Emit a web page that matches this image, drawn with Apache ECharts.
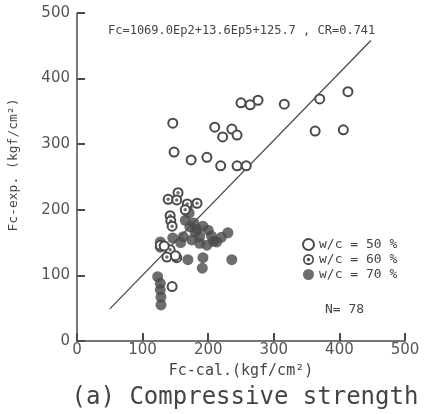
<!DOCTYPE html>
<html>
<head>
<meta charset="utf-8">
<script src="https://cdn.jsdelivr.net/npm/echarts@6/dist/echarts.min.js"></script>
<style>html,body{margin:0;padding:0;background:#fff;}#c{width:426px;height:414px;}</style>
</head>
<body>
<div id="c"></div>
<script>
// ---- data (Fc-cal, Fc-exp) in kgf/cm2 ----
var wc50 = [[146,332],[210,326],[236,323],[222,311],[244,314],[250,363],[264,360],[276,367],[316,361],[370,369],[413,380],[363,320],[406,322],[148,288],[174,276],[198,280],[219,267],[244,267],[258,267],[133,145],[150,130],[145,83]];
var wc60 = [[139,216],[154,226],[152,215],[168,209],[183,210],[142,191],[143,183],[145,175],[127,146],[142,139],[152,127],[137,128],[165,200]];
var wc70 = [[168,204],[171,195],[165,184],[172,174],[180,166],[187,159],[200,169],[230,165],[213,151],[198,146],[187,149],[175,154],[162,159],[146,157],[127,151],[127,143],[169,124],[192,127],[191,111],[236,124],[123,98],[127,88],[127,78],[128,67],[128,55],[183,170],[205,160],[220,158],[192,175],[208,152],[178,180],[158,150]];
var regLine = [[50,49],[448,458]];
var names = ['w/c = 50 %','w/c = 60 %','w/c = 70 %'];

var ink = '#4a4a4a';
var mono = '"DejaVu Sans Mono", "Liberation Mono", monospace';
var dotPath = 'path://M0,-10A10,10,0,1,1,0,10A10,10,0,1,1,0,-10ZM0,-7A7,7,0,1,0,0,7A7,7,0,1,0,0,-7ZM0,-3A3,3,0,1,1,0,3A3,3,0,1,1,0,-3Z';

var chart = echarts.init(document.getElementById('c'));
function makeAxis(extra) {
  var a = {
    type: 'value', min: 0, max: 500, interval: 100,
    axisLine: {show: true, lineStyle: {color: ink, width: 1.5}},
    axisTick: {show: true, inside: true, length: 8, lineStyle: {color: ink, width: 2}},
    splitLine: {show: false}
  };
  for (var k in extra) a[k] = extra[k];
  return a;
}
chart.setOption({
  animation: false,
  backgroundColor: '#fff',
  title: {
    text: 'Fc=1069.0Ep2+13.6Ep5+125.7 , CR=0.741',
    left: 103, top: 20,
    textStyle: {fontFamily: mono, fontSize: 12, fontWeight: 'normal', color: '#444'}
  },
  grid: {left: 77, right: 21, top: 13, bottom: 73},
  legend: {
    orient: 'vertical', left: 297, top: 233, itemGap: 2, itemWidth: 11, itemHeight: 11,
    textStyle: {fontFamily: mono, fontSize: 13, color: '#444'},
    data: [
      {name: names[0], icon: 'circle'},
      {name: names[1], icon: dotPath, itemStyle: {color: ink, borderWidth: 0}},
      {name: names[2], icon: 'circle'}
    ]
  },
  xAxis: makeAxis({
    axisLabel: {color: '#555', fontFamily: '"DejaVu Sans", sans-serif', fontSize: 15, margin: 2},
    name: 'Fc-cal.(kgf/cm²)', nameLocation: 'middle', nameGap: 23,
    nameTextStyle: {fontFamily: mono, fontSize: 15, color: '#444'}
  }),
  yAxis: makeAxis({
    axisLabel: {color: '#555', fontFamily: '"DejaVu Sans", sans-serif', fontSize: 15, margin: 7}
  }),
  graphic: [
    {type: 'text', x: 14, y: 165, rotation: Math.PI/2, style: {text: 'Fc-exp. (kgf/cm²)', font: '13px ' + mono, fill: '#444', textAlign: 'center', textVerticalAlign: 'middle'}},
    {type: 'text', x: 325, y: 310, style: {text: 'N= 78', font: '13px ' + mono, fill: '#444', textVerticalAlign: 'middle'}},
    {type: 'text', x: 245, y: 398, style: {text: '(a) Compressive strength', font: '24px ' + mono, fill: '#444', textAlign: 'center', textVerticalAlign: 'middle'}}
  ],
  series: [
    {type: 'line', data: regLine, symbol: 'none', lineStyle: {color: ink, width: 1.3}, z: 1, silent: true},
    {name: names[2], type: 'scatter', data: wc70, symbol: 'circle', symbolSize: 11, itemStyle: {color: ink}, z: 2},
    {name: names[1], type: 'scatter', data: wc60, symbol: 'circle', symbolSize: 9, itemStyle: {color: '#fff', borderColor: ink, borderWidth: 2, opacity: 1}, z: 3},
    {name: '_dot60', type: 'scatter', data: wc60, symbol: 'circle', symbolSize: 3.5, itemStyle: {color: ink}, z: 4},
    {name: names[0], type: 'scatter', data: wc50, symbol: 'circle', symbolSize: 9, itemStyle: {color: '#fff', borderColor: ink, borderWidth: 2, opacity: 1}, z: 5}
  ]
});
</script>
</body>
</html>
